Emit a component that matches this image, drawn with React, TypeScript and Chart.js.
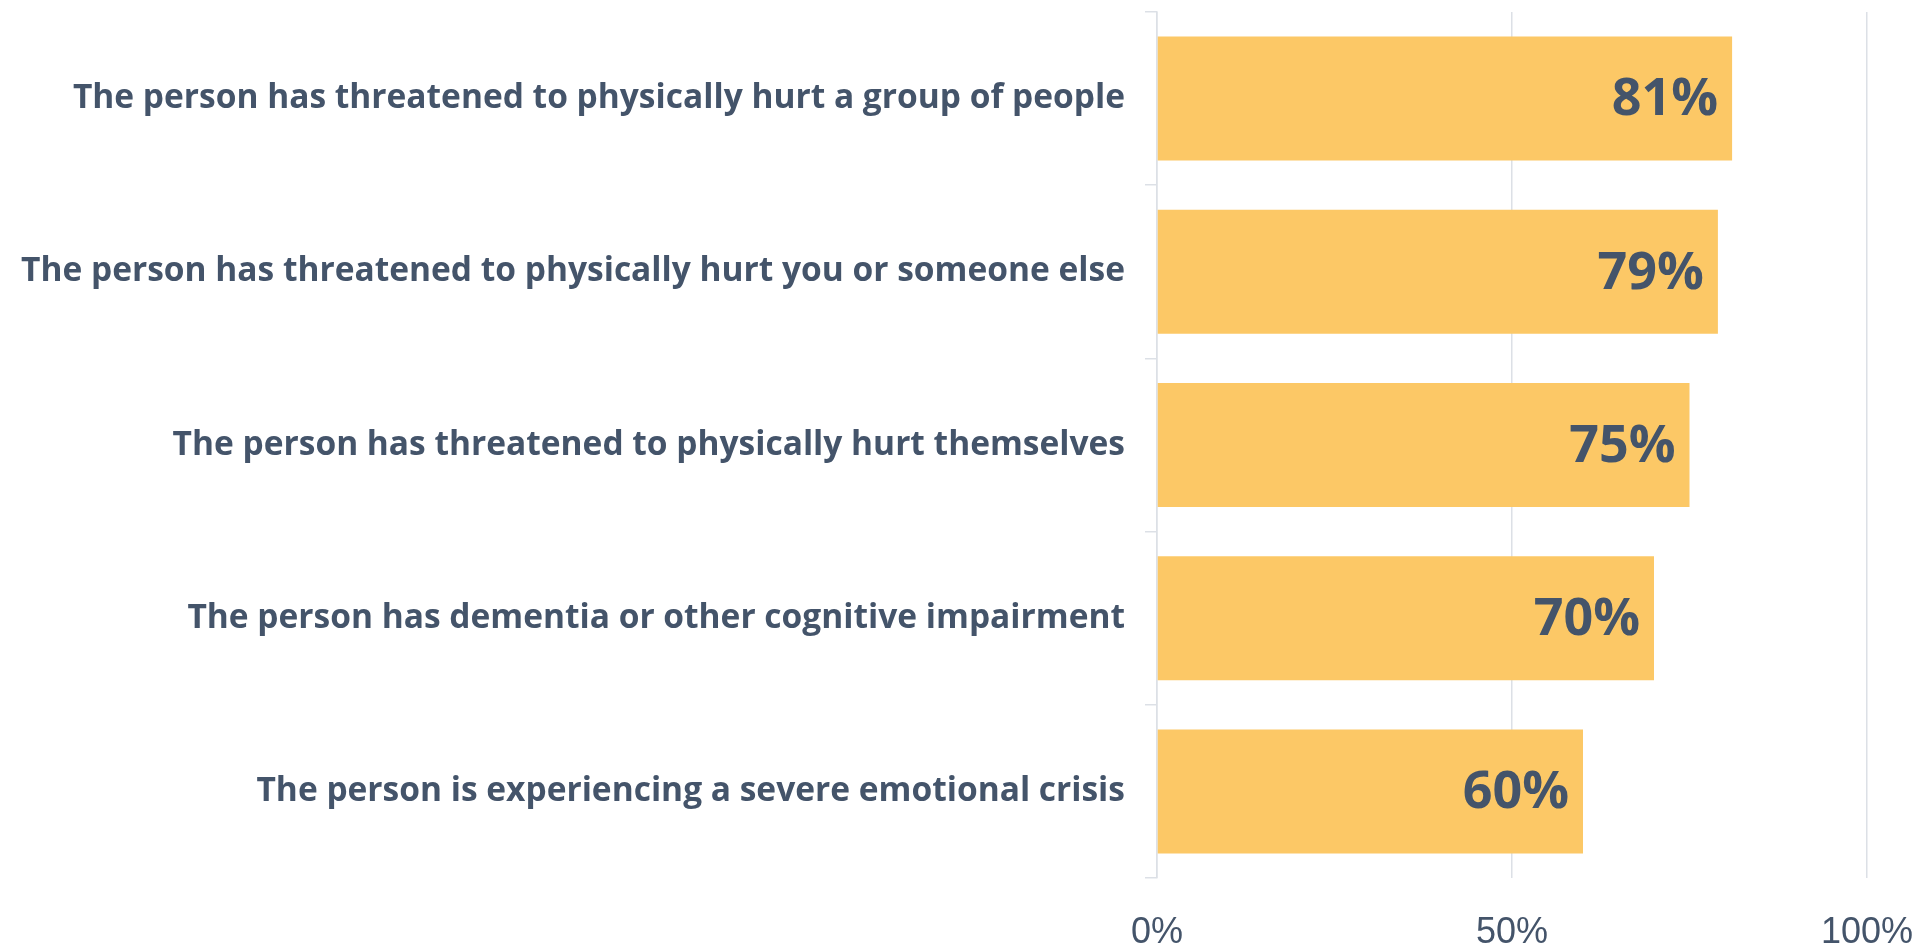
import React, { useEffect, useRef } from "react";
import { Chart, registerables } from "chart.js";

Chart.register(...registerables);

const categories: string[] = [
  "The person has threatened to physically hurt a group of people",
  "The person has threatened to physically hurt you or someone else",
  "The person has threatened to physically hurt themselves",
  "The person has dementia or other cognitive impairment",
  "The person is experiencing a severe emotional crisis",
];
const values: number[] = [81, 79, 75, 70, 60];
const xTicks: number[] = [0, 50, 100];

const TEXT = "#44546A";
const BAR = "#FCC866";
const GRID = "#DCE0E6";

const valueLabels = {
  id: "valueLabels",
  afterDatasetsDraw(chart: any) {
    const ctx = chart.ctx;
    const meta = chart.getDatasetMeta(0);
    ctx.save();
    ctx.fillStyle = TEXT;
    ctx.font = "bold 52px 'Open Sans'";
    ctx.textAlign = "right";
    ctx.textBaseline = "middle";
    meta.data.forEach((bar: any, i: number) => {
      ctx.fillText(values[i] + "%", bar.x - 14, bar.y + 2);
    });
    ctx.restore();
  },
};

export default function App() {
  const ref = useRef<HTMLCanvasElement | null>(null);
  useEffect(() => {
    document.body.style.margin = "0";
    const chart = new Chart(ref.current as HTMLCanvasElement, {
      type: "bar",
      data: {
        labels: categories,
        datasets: [
          {
            data: values,
            backgroundColor: BAR,
            borderWidth: 0,
            categoryPercentage: 1,
            barPercentage: 0.716,
          },
        ],
      },
      options: {
        indexAxis: "y",
        responsive: false,
        animation: false,
        layout: { padding: { top: 12, right: 65, left: 0, bottom: 0 } },
        plugins: { legend: { display: false }, tooltip: { enabled: false } },
        scales: {
          x: {
            min: 0,
            max: 100,
            afterBuildTicks: (scale: any) => {
              scale.ticks = xTicks.map((v) => ({ value: v }));
            },
            afterFit: (scale: any) => {
              scale.height = 73;
              scale.paddingLeft = 0;
              scale.paddingRight = 0;
            },
            grid: {
              color: GRID,
              lineWidth: 1.5,
              drawTicks: false,
            },
            border: { display: false },
            ticks: {
              padding: 33,
              color: TEXT,
              font: { family: "'Liberation Sans'", size: 36, lineHeight: 1.2 },
              callback: (v: any) => v + "%",
              maxRotation: 0,
            },
          },
          y: {
            afterFit: (scale: any) => {
              scale.width = 1157;
              scale.paddingTop = 0;
              scale.paddingBottom = 0;
            },
            grid: {
              drawOnChartArea: false,
              drawTicks: true,
              tickLength: 12,
              color: GRID,
              lineWidth: 1.5,
              offset: true,
            },
            border: { display: true, color: GRID, width: 1.5 },
            ticks: {
              padding: 20,
              color: TEXT,
              font: { family: "'Open Sans'", size: 33.5, weight: "bold" },
            },
          },
        },
      },
      plugins: [valueLabels],
    });
    return () => chart.destroy();
  }, []);
  return (
    <canvas
      ref={ref}
      width={1932}
      height={951}
      style={{ position: "absolute", left: 0, top: 0, display: "block" }}
    />
  );
}
